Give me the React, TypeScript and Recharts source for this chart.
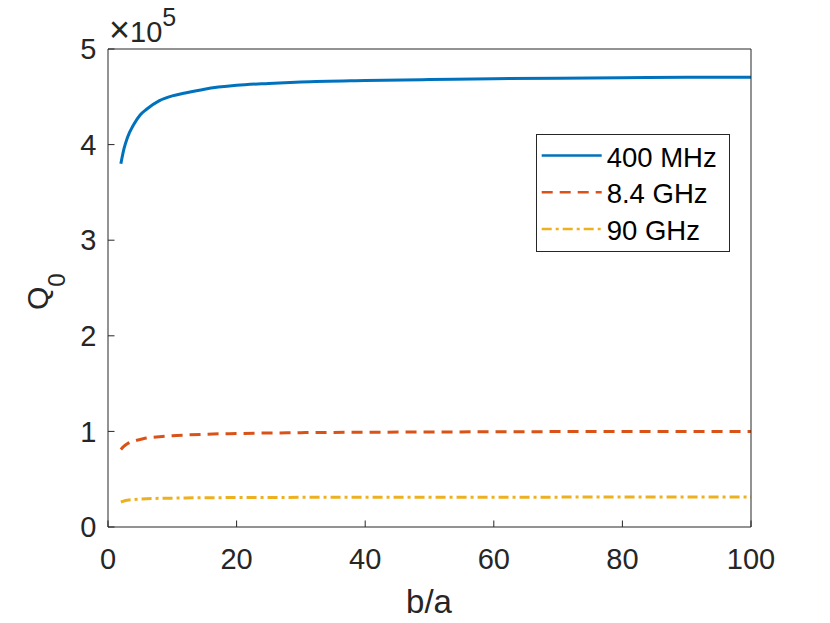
import React from "react";
import { LineChart, Line, XAxis, YAxis, Legend, Customized } from "recharts";

// b/a samples and Q0
const ratios = [2, 2.5, 3, 4, 5, 6, 8, 10, 12, 15, 20, 25, 30, 40, 50, 60, 70, 80, 90, 100];
const q400MHz = [
  380000, 396000, 407000, 421000, 431000, 437000, 446000, 451000, 454000, 458000,
  462000, 464000, 465500, 467000, 468000, 469000, 469500, 470000, 470500, 470500,
];
const q8p4GHz = [
  81000, 84500, 87000, 90000, 91500, 93000, 94500, 95500, 96200, 97000,
  97800, 98300, 98700, 99100, 99400, 99600, 99800, 99900, 100000, 100000,
];
const q90GHz = [
  26200, 27200, 27900, 28700, 29200, 29600, 30000, 30200, 30400, 30600,
  30800, 30900, 31000, 31100, 31200, 31200, 31250, 31300, 31300, 31300,
];

const xTicks = [0, 20, 40, 60, 80, 100];
const yTicks = [0, 100000, 200000, 300000, 400000, 500000];

const series = [
  { key: "q400", name: "400 MHz", color: "#0072BD", dash: undefined },
  { key: "q84", name: "8.4 GHz", color: "#D95319", dash: "11 7" },
  { key: "q90", name: "90 GHz", color: "#EDB120", dash: "10 4 3 4" },
];

const rows = ratios.map((r, i) => ({
  ba: r,
  q400: q400MHz[i],
  q84: q8p4GHz[i],
  q90: q90GHz[i],
}));

const FONT = "'Liberation Sans', Arial, Helvetica, sans-serif";
const INK = "#262626";

const renderLegend = () => (
  <svg width={194} height={118} style={{ display: "block" }}>
    <rect x={0.5} y={0.5} width={193} height={117} fill="#fff" stroke={INK} strokeWidth={1} />
    {series.map((s, i) => {
      const cy = 21.5 + i * 36.7;
      return (
        <g key={s.key}>
          <line
            x1={5.7}
            x2={65.7}
            y1={cy}
            y2={cy}
            stroke={s.color}
            strokeWidth={2.5}
            strokeDasharray={s.dash}
          />
          <text x={70.7} y={cy + 11} fontSize={27.5} fontFamily={FONT} fill="#000">
            {s.name}
          </text>
        </g>
      );
    })}
  </svg>
);

const Annotations = () => (
  <g fontFamily={FONT} fill={INK}>
    <text x={109} y={42} fontSize={29}>
      <tspan fontSize={36}>×</tspan>
      <tspan>10</tspan>
      <tspan fontSize={25} dy={-16}>
        5
      </tspan>
    </text>
    <text transform="translate(48, 310) rotate(-90)" fontSize={30}>
      Q
      <tspan fontSize={24} dy={17}>
        0
      </tspan>
    </text>
    <text x={429} y={613} fontSize={33} textAnchor="middle">
      b/a
    </text>
  </g>
);

export default function App() {
  return (
    <div style={{ position: "absolute", left: 0, top: 0, width: 830, height: 623, background: "#fff" }}>
      <LineChart
        width={830}
        height={623}
        data={rows}
        margin={{ top: 48, right: 78, bottom: 0, left: 0 }}
      >
        <XAxis
          dataKey="ba"
          type="number"
          domain={[0, 100]}
          ticks={xTicks}
          height={96}
          stroke={INK}
          tickSize={-6.5}
          tickMargin={28}
          tick={{ fontSize: 29, fill: INK, fontFamily: FONT }}
          allowDataOverflow
        />
        <XAxis
          xAxisId="top"
          orientation="top"
          type="number"
          domain={[0, 100]}
          ticks={xTicks}
          height={1}
          stroke={INK}
          tickSize={-6.5}
          tick={false}
        />
        <YAxis
          type="number"
          domain={[0, 500000]}
          ticks={yTicks}
          width={108}
          stroke={INK}
          tickSize={-6.5}
          tickMargin={18}
          tickFormatter={(v: number) => String(v / 100000)}
          tick={{ fontSize: 29, fill: INK, fontFamily: FONT }}
          allowDataOverflow
        />
        <YAxis
          yAxisId="right"
          orientation="right"
          type="number"
          domain={[0, 500000]}
          ticks={yTicks}
          width={1}
          stroke={INK}
          tickSize={-6.5}
          tick={false}
        />
        {series.map((s) => (
          <Line
            key={s.key}
            type="monotone"
            dataKey={s.key}
            name={s.name}
            stroke={s.color}
            strokeWidth={3}
            strokeDasharray={s.dash}
            dot={false}
            activeDot={false}
            isAnimationActive={false}
          />
        ))}
        <Legend
          layout="horizontal"
          verticalAlign="middle"
          align="center"
          content={renderLegend}
          wrapperStyle={{ position: "absolute", left: 536, top: 134, width: 194, height: 118 }}
        />
        <Customized component={Annotations} />
      </LineChart>
    </div>
  );
}
